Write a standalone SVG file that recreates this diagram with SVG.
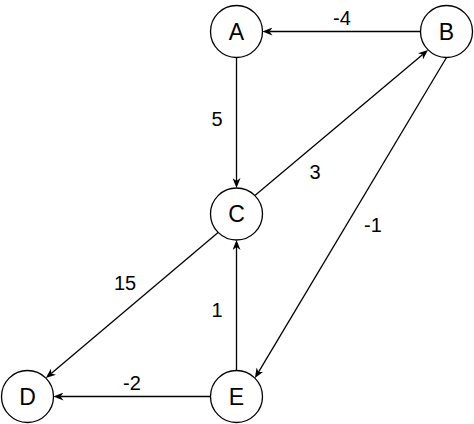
<svg xmlns="http://www.w3.org/2000/svg" width="474" height="424" viewBox="0 0 474 424">
<style>
.node circle{fill:#fff;stroke:#000;stroke-width:1.3}
.node text{font-family:"Liberation Sans",Arial,sans-serif;font-size:23px;text-anchor:middle;fill:#000}
.edge line{stroke:#000;stroke-width:1.3;fill:none;marker-end:url(#arr)}
.lbl{font-family:"Liberation Sans",Arial,sans-serif;font-size:20px;text-anchor:middle;fill:#000}
</style>
<defs>
<marker id="arr" markerUnits="userSpaceOnUse" markerWidth="10" markerHeight="8" refX="3" refY="4" orient="auto">
<path d="M0,0 L10,4 L0,8 L3,4 z" fill="#000"/>
</marker>
</defs>
<rect width="474" height="424" fill="#fff"/>
<g id="connectors">
<g class="edge" id="e-BA"><line x1="420.5" y1="31.5" x2="269.5" y2="31.5"/></g>
<g class="edge" id="e-AC"><line x1="236.5" y1="57.5" x2="236.5" y2="181"/></g>
<g class="edge" id="e-CB"><line x1="254.9" y1="195.6" x2="422.7" y2="54.4"/></g>
<g class="edge" id="e-BE"><line x1="446.5" y1="57.5" x2="258.5" y2="372.1"/></g>
<g class="edge" id="e-CD"><line x1="218.1" y1="232.4" x2="51.2" y2="373.6"/></g>
<g class="edge" id="e-EC"><line x1="236.5" y1="370.5" x2="236.5" y2="247"/></g>
<g class="edge" id="e-ED"><line x1="210.5" y1="396.5" x2="60.5" y2="396.5"/></g>
<text class="lbl" x="342" y="24.5">-4</text>
<text class="lbl" x="217" y="126">5</text>
<text class="lbl" x="315" y="179">3</text>
<text class="lbl" x="373" y="232">-1</text>
<text class="lbl" x="125" y="290">15</text>
<text class="lbl" x="217" y="317">1</text>
<text class="lbl" x="132" y="390">-2</text>
</g>
<g class="node" id="A"><circle cx="236.5" cy="31.5" r="26"/><text x="236.5" y="39.5">A</text></g>
<g class="node" id="B"><circle cx="446.5" cy="31.5" r="26"/><text x="446.5" y="39.5">B</text></g>
<g class="node" id="C"><circle cx="236.5" cy="214" r="26"/><text x="236.5" y="222">C</text></g>
<g class="node" id="D"><circle cx="27.5" cy="396.5" r="26"/><text x="27.5" y="404.5">D</text></g>
<g class="node" id="E"><circle cx="236.5" cy="396.5" r="26"/><text x="236.5" y="404.5">E</text></g>
</svg>
